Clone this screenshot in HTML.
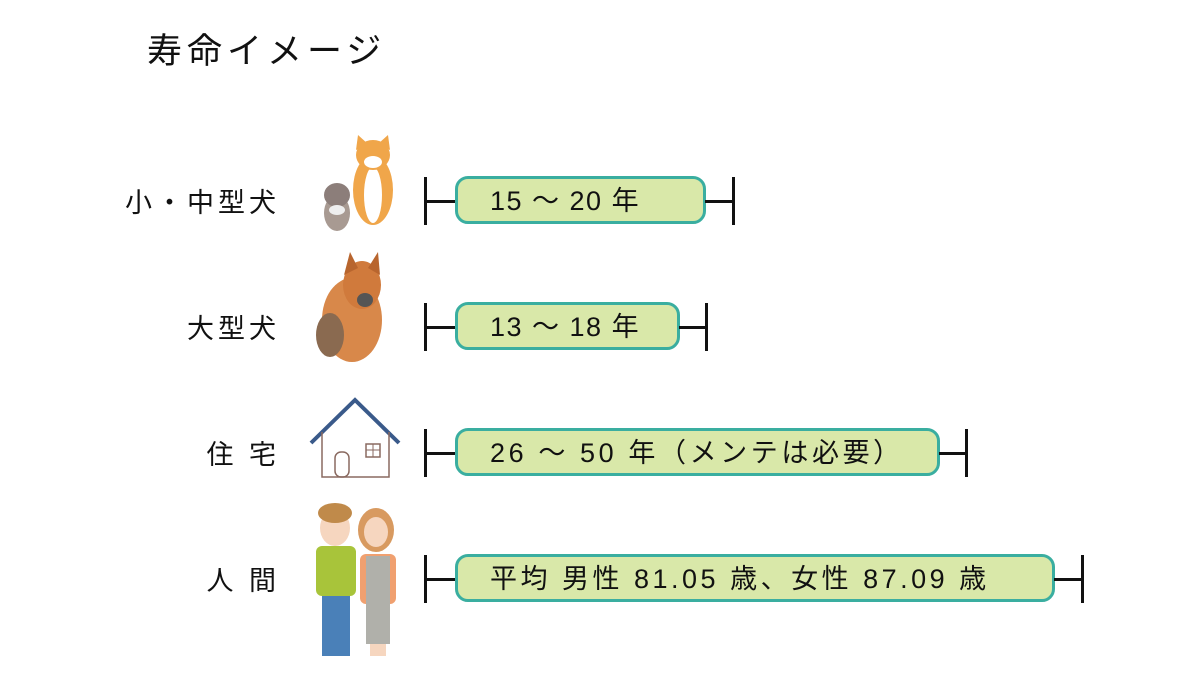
<!DOCTYPE html>
<html><head><meta charset="utf-8"><style>
body{margin:0;width:1200px;height:692px;background:#fff;position:relative;overflow:hidden;font-family:"Liberation Sans","Noto Sans CJK JP",sans-serif;color:#111}
.t{position:absolute;white-space:nowrap}
.lbl{position:absolute;right:920px;font-size:27px;letter-spacing:4px;line-height:30px}
.box{position:absolute;left:455px;height:48px;border:3px solid #3aaea0;border-radius:13px;background:#d9e8a9;box-sizing:border-box;font-size:27px;line-height:44px;padding-left:32px;letter-spacing:1.5px;white-space:nowrap}
.tk{position:absolute;width:3px;height:48px;background:#111}
.hl{position:absolute;height:3px;background:#111}
</style></head><body>
<div class="t" style="left:147px;top:30px;font-size:35px;letter-spacing:5px;line-height:44px">寿命イメージ</div>

<div class="lbl" style="top:188px">小・中型犬</div>
<div class="lbl" style="top:314px">大型犬</div>
<div class="lbl" style="top:440px">住 宅</div>
<div class="lbl" style="top:566px">人 間</div>

<div class="tk" style="left:424px;top:177px"></div><div class="hl" style="left:424px;top:200px;width:32px"></div>
<div class="box" style="top:176px;width:251px">15 ～ 20 年</div>
<div class="hl" style="left:705px;top:200px;width:30px"></div><div class="tk" style="left:732px;top:177px"></div>

<div class="tk" style="left:424px;top:303px"></div><div class="hl" style="left:424px;top:326px;width:32px"></div>
<div class="box" style="top:302px;width:225px">13 ～ 18 年</div>
<div class="hl" style="left:679px;top:326px;width:29px"></div><div class="tk" style="left:705px;top:303px"></div>

<div class="tk" style="left:424px;top:429px"></div><div class="hl" style="left:424px;top:452px;width:32px"></div>
<div class="box" style="top:428px;width:485px;letter-spacing:3.6px">26 ～ 50 年（メンテは必要）</div>
<div class="hl" style="left:939px;top:452px;width:29px"></div><div class="tk" style="left:965px;top:429px"></div>

<div class="tk" style="left:424px;top:555px"></div><div class="hl" style="left:424px;top:578px;width:32px"></div>
<div class="box" style="top:554px;width:600px;letter-spacing:3.5px">平均 男性 81.05 歳、女性 87.09 歳</div>
<div class="hl" style="left:1054px;top:578px;width:29px"></div><div class="tk" style="left:1081px;top:555px"></div>

<svg width="1200" height="692" style="position:absolute;left:0;top:0">
<ellipse cx="373" cy="190" rx="20" ry="35" fill="#f0a64a"/>
<ellipse cx="373" cy="195" rx="9" ry="28" fill="#fff"/>
<ellipse cx="373" cy="155" rx="17" ry="15" fill="#f0a64a"/>
<polygon points="356,150 358,135 368,144" fill="#f0a64a"/><polygon points="390,150 388,135 378,144" fill="#f0a64a"/>
<ellipse cx="373" cy="162" rx="9" ry="6" fill="#fff"/>
<ellipse cx="337" cy="213" rx="13" ry="18" fill="#a89a92"/>
<ellipse cx="337" cy="195" rx="13" ry="12" fill="#8c7e7a"/>
<ellipse cx="337" cy="210" rx="8" ry="5" fill="#eee"/>
<ellipse cx="352" cy="320" rx="30" ry="42" fill="#d8884a"/>
<ellipse cx="362" cy="285" rx="19" ry="24" fill="#d07a3c"/>
<polygon points="344,275 350,252 358,268" fill="#b8652e"/><polygon points="380,275 378,252 368,268" fill="#b8652e"/>
<ellipse cx="365" cy="300" rx="8" ry="7" fill="#555"/>
<ellipse cx="330" cy="335" rx="14" ry="22" fill="#8a6a50"/>
<polyline points="311,443 355,400 399,443" fill="none" stroke="#3a5a8a" stroke-width="4"/>
<polyline points="322,432 322,477 389,477 389,432" fill="none" stroke="#8a6a60" stroke-width="1.5"/>
<rect x="335" y="452" width="14" height="25" rx="6" fill="none" stroke="#8a6a60" stroke-width="1.5"/>
<rect x="366" y="444" width="14" height="13" fill="none" stroke="#8a6a60" stroke-width="1.5"/>
<line x1="373" y1="444" x2="373" y2="457" stroke="#8a6a60"/><line x1="366" y1="450" x2="380" y2="450" stroke="#8a6a60"/>
<ellipse cx="335" cy="528" rx="15" ry="18" fill="#f6d6bf"/>
<ellipse cx="335" cy="513" rx="17" ry="10" fill="#c08a4a"/>
<rect x="316" y="546" width="40" height="50" rx="6" fill="#a8c43a"/>
<rect x="322" y="596" width="28" height="60" fill="#4a80b8"/>
<ellipse cx="376" cy="530" rx="18" ry="22" fill="#d89a60"/>
<ellipse cx="376" cy="532" rx="12" ry="15" fill="#f6d6bf"/>
<rect x="360" y="554" width="36" height="50" rx="6" fill="#f0a070"/>
<rect x="366" y="556" width="24" height="88" fill="#b0b0aa"/>
<rect x="370" y="644" width="16" height="12" fill="#f6d6bf"/>
</svg>
</body></html>
